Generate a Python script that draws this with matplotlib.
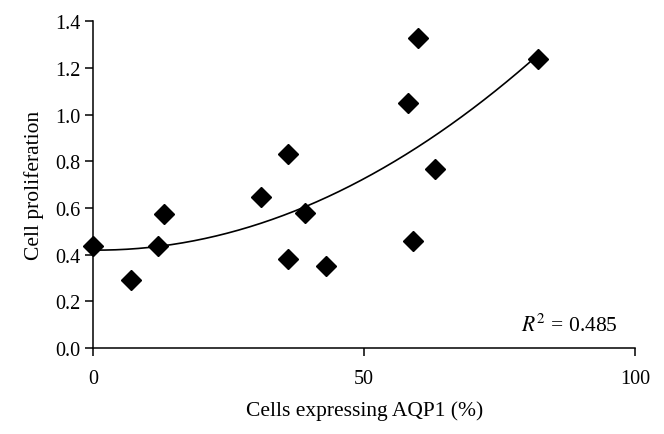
import numpy as np
import matplotlib.pyplot as plt

plt.rcParams['font.family'] = ['Liberation Serif', 'DejaVu Serif']
plt.rcParams['mathtext.fontset'] = 'stix'

# cells expressing AQP1 (%) and cell proliferation
aqp1 = [0, 7, 12, 13, 31, 36, 36, 39, 43, 58, 60, 59, 63, 82]
prolif = [0.435, 0.29, 0.435, 0.575, 0.645, 0.83, 0.38, 0.58, 0.35, 1.05, 1.33, 0.46, 0.765, 1.24]
x_ticks = [0, 50, 100]
y_ticks = [0.0, 0.2, 0.4, 0.6, 0.8, 1.0, 1.2, 1.4]
r2_label = 0.485

x = np.array(aqp1, dtype=float)
y = np.array(prolif, dtype=float)

# second-order polynomial trendline
coef = np.polyfit(x, y, 2)
fit = np.poly1d(coef)
xs = np.linspace(x.min(), x.max(), 200)

fig = plt.figure(figsize=(6.64, 4.35), dpi=100)
ax = fig.add_axes([0.1408, 0.1977, 0.8155, 0.751])

ax.plot(xs, fit(xs), color='black', lw=1.2, zorder=1, clip_on=False)
ax.plot(x, y, 'D', color='black', markersize=10, zorder=2, clip_on=False)

ax.set_xlim(0, 100)
ax.set_ylim(0, 1.4)
ax.set_xticks(x_ticks)
ax.set_yticks(y_ticks)
ax.set_yticklabels([f'{v:.1f}' for v in y_ticks])
for s in ['top', 'right']:
    ax.spines[s].set_visible(False)
for s in ['left', 'bottom']:
    ax.spines[s].set_linewidth(1.1)
ax.tick_params(direction='out', length=6, width=1.1, labelsize=14.5, colors='black')
ax.tick_params(axis='x', pad=9)

ax.set_xlabel('Cells expressing AQP1 (%)', fontsize=15.5, labelpad=9)
ax.set_ylabel('Cell proliferation', fontsize=15.5, labelpad=8)

ax.text(0.968, 0.07, r'$R^2$ = %.3f' % r2_label, transform=ax.transAxes,
        ha='right', va='center', fontsize=15.5)

fig.savefig('out.png', dpi=100)
